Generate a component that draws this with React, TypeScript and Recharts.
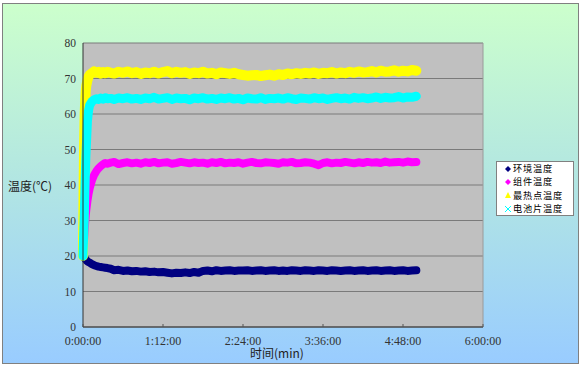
import { LineChart, Line, XAxis, YAxis, CartesianGrid, ReferenceLine } from 'recharts'

// minutes since start
const TIME_MIN = [
  0, 0.5, 1, 1.5, 2, 2.5, 3, 4, 5, 6, 8, 10, 12, 14, 16, 18, 20, 22, 25,
  28, 32, 36, 40, 44, 48, 52, 56, 60, 64, 68, 72, 76, 80, 84, 88, 92, 96, 100, 104,
  108, 112, 116, 120, 124, 128, 132, 136, 140, 144, 148, 152, 156, 160, 164, 168, 172, 176, 180, 184,
  188, 192, 196, 200, 204, 208, 212, 216, 220, 224, 228, 232, 236, 240, 244, 248, 252, 256, 260, 264,
  268, 272, 276, 280, 284, 288, 292, 296, 300
]

const AMBIENT = [
  20.0, 19.8, 19.6, 19.4, 19.2, 19.0, 18.8, 18.5, 18.3, 18.1, 17.7, 17.4, 17.2, 17.0, 16.9, 16.8, 16.7, 16.6, 16.4,
  16.0, 16.1, 15.8, 15.9, 15.7, 15.8, 15.6, 15.7, 15.5, 15.6,
  15.4, 15.5, 15.3, 15.1, 15.3, 15.2, 15.4, 15.2, 15.5, 15.3,
  15.8, 15.9, 15.7, 16.0, 15.8, 15.9, 16.0, 15.8, 15.9, 15.9,
  16.0, 15.8, 15.9, 16.0, 15.8, 15.9, 16.0, 15.8, 15.9, 15.8,
  16.0, 15.9, 15.8, 16.0, 15.9, 15.8, 16.0, 15.9, 15.8, 16.0,
  15.9, 15.8, 15.9, 16.0, 15.8, 15.9, 16.0, 15.8, 15.9, 16.0,
  15.8, 15.9, 16.0, 15.8, 15.9, 16.0, 15.8, 15.9, 16.0
]

const MODULE = [
  20.0, 22.5, 25.0, 27.5, 29.5, 31.5, 33.0, 35.5, 37.5, 39.0, 41.3, 42.8, 43.9, 44.7, 45.3, 45.8, 46.2, 46.0, 46.3,
  46.5, 45.9, 46.2, 46.4, 46.1, 46.3, 46.0, 46.4, 46.2, 46.5,
  46.1, 46.3, 46.4, 46.0, 46.2, 46.5, 46.3, 46.1, 46.4, 46.2,
  46.3, 46.0, 46.4, 46.2, 46.5, 46.1, 46.3, 46.2, 46.4, 46.0,
  46.3, 46.5, 46.2, 46.1, 46.4, 46.3, 46.2, 46.0, 46.4, 46.3,
  46.5, 46.1, 46.2, 46.4, 46.3, 46.0, 45.6, 46.2, 46.4, 46.1,
  46.3, 46.2, 46.5, 46.3, 46.1, 46.4, 46.2, 46.5, 46.3, 46.4,
  46.2, 46.6, 46.3, 46.4, 46.5, 46.3, 46.6, 46.4, 46.5
]

const HOTSPOT = [
  20.0, 38.0, 52.0, 60.0, 64.0, 66.5, 68.0, 69.5, 70.5, 71.0, 71.5, 72.0, 71.6, 71.9, 71.4, 71.8, 71.5, 71.9, 71.6,
  71.4, 71.9, 71.6, 72.0, 71.5, 71.8, 71.3, 71.7, 71.5, 71.9,
  71.4, 71.8, 72.1, 71.5, 71.9, 71.6, 71.8, 71.3, 71.7, 71.5,
  71.9, 71.4, 71.6, 71.2, 71.7, 71.5, 71.3, 71.6, 71.2, 71.0,
  70.8, 70.9, 71.0, 70.7, 70.9, 71.1, 70.8, 71.2, 71.0, 71.4,
  71.2, 71.5, 71.3, 71.6, 71.4, 71.7, 71.3, 71.6, 71.5, 71.8,
  71.4, 71.7, 71.5, 71.9, 71.6, 72.0, 71.7, 71.8, 72.1, 71.7,
  72.2, 71.9, 72.0, 72.3, 71.9, 72.2, 72.0, 72.4, 72.2
]

const CELL = [
  20.0, 25.0, 30.0, 36.0, 42.0, 47.0, 51.0, 58.0, 61.0, 62.5, 63.5, 64.0, 64.3, 64.1, 64.5, 64.2, 64.6, 64.3, 64.4,
  64.1, 64.5, 64.3, 64.6, 64.2, 64.4, 64.1, 64.5, 64.3, 64.7,
  64.2, 64.4, 64.6, 64.1, 64.5, 64.3, 64.4, 64.0, 64.5, 64.3,
  64.6, 64.2, 64.4, 64.1, 64.5, 64.3, 64.6, 64.2, 64.4, 64.0,
  64.5, 64.3, 64.2, 64.6, 64.1, 64.4, 64.3, 64.5, 64.2, 64.6,
  64.3, 64.1, 64.5, 64.4, 64.2, 64.6, 64.3, 64.5, 64.1, 64.4,
  64.6, 64.3, 64.5, 64.2, 64.7, 64.4, 64.6, 64.3, 64.5, 64.8,
  64.4, 64.7, 64.5, 64.6, 64.9, 64.5, 64.8, 64.7, 65.0
]

const SERIES = [
  { key: 'ambient', name: '环境温度', color: '#000080', shape: 'diamond', width: 8, values: AMBIENT },
  { key: 'module', name: '组件温度', color: '#ff00ff', shape: 'diamond', width: 8, values: MODULE },
  { key: 'hotspot', name: '最热点温度', color: '#ffff00', shape: 'triangle', width: 10, values: HOTSPOT },
  { key: 'cell', name: '电池片温度', color: '#00ffff', shape: 'cross', width: 9, values: CELL }
]

const X_TICKS = [0, 72, 144, 216, 288, 360]
const Y_TICKS = [0, 10, 20, 30, 40, 50, 60, 70, 80]

const data = TIME_MIN.map((t, i) => {
  const row: any = { t }
  SERIES.forEach(s => { row[s.key] = s.values[i] })
  return row
})

const fmtTime = (m: number) => {
  const h = Math.floor(m / 60)
  const mm = Math.round(m % 60)
  return `${h}:${String(mm).padStart(2, '0')}:00`
}

const NUM_FONT = 'Liberation Serif'
const CJK_FONT = '"Noto Sans CJK SC"'

const XTick = (props: any) => {
  const { x, y, payload } = props
  return (
    <g>
      <line x1={x} x2={x} y1={y - 7} y2={y - 10} stroke='#555' />
      <text x={x} y={y + 2} dy='0.71em' textAnchor='middle' fill='#333' fontSize={12} fontFamily={NUM_FONT}>
        {fmtTime(payload.value)}
      </text>
    </g>
  )
}

const Marker = ({ shape, color }: { shape: string, color: string }) => (
  <svg width={6} height={6} style={{ display: 'block', marginRight: 2, flex: 'none' }}>
    {shape === 'diamond' && <polygon points='3,0 6,3 3,6 0,3' fill={color} />}
    {shape === 'triangle' && <polygon points='3,0 6,6 0,6' fill={color} />}
    {shape === 'cross' && (
      <g stroke={color} strokeWidth={1}>
        <line x1={0} y1={0} x2={6} y2={6} />
        <line x1={6} y1={0} x2={0} y2={6} />
      </g>
    )}
  </svg>
)

const LegendBox = () => (
  <div style={{
    position: 'absolute', left: 496, top: 161, width: 76, height: 53,
    background: '#fff', border: '1px solid #808080', paddingTop: 0
  }}>
    {SERIES.map(s => (
      <div key={s.key} style={{
        display: 'flex', alignItems: 'center', height: 13.3, paddingLeft: 8, whiteSpace: 'nowrap',
        fontFamily: CJK_FONT, fontSize: 9.2, letterSpacing: 0.8, color: '#000', lineHeight: '13.3px'
      }}>
        <Marker shape={s.shape} color={s.color} />
        <span>{s.name}</span>
      </div>
    ))}
  </div>
)

export default function App() {
  return (
    <div style={{ position: 'absolute', left: 0, top: 0, width: 580, height: 365, background: '#fff' }}>
      <div style={{
        position: 'absolute', left: 2, top: 3, width: 575, height: 359, border: '1px solid #808080',
        background: 'linear-gradient(to bottom, #ccffcc 0%, #b4e8e0 45%, #99ccff 100%)'
      }} />
      <div style={{ position: 'absolute', left: 0, top: 0 }}>
        <LineChart width={580} height={365} data={data} margin={{ top: 43, right: 97, bottom: 8, left: 53 }}>
          <CartesianGrid vertical={false} stroke='#7a7a7a' fill='#c0c0c0' fillOpacity={1} />
          <XAxis
            dataKey='t'
            type='number'
            domain={[0, 360]}
            ticks={X_TICKS}
            height={30}
            tickSize={0}
            tickMargin={7}
            tick={<XTick />}
            stroke='#333'
            label={{ content: () => (
              <text x={277} y={358} textAnchor='middle' fill='#222' fontSize={12} fontFamily={CJK_FONT}>时间(min)</text>
            ) }}
          />
          <YAxis
            type='number'
            domain={[0, 80]}
            ticks={Y_TICKS}
            width={30}
            tickLine={false}
            tickSize={0}
            tickMargin={7}
            stroke='#333'
            tick={{ fill: '#333', fontSize: 11.5, fontFamily: NUM_FONT }}
            label={{ content: () => (
              <text x={8} y={191} fill='#222' fontSize={12} fontFamily={CJK_FONT}>温度(℃)</text>
            ) }}
          />
          <ReferenceLine x={360} stroke='#9a9a9a' />
          {SERIES.map(s => (
            <Line
              key={s.key}
              dataKey={s.key}
              name={s.name}
              stroke={s.color}
              strokeWidth={s.width}
              strokeLinejoin='round'
              strokeLinecap='round'
              dot={false}
              activeDot={false}
              isAnimationActive={false}
            />
          ))}
        </LineChart>
      </div>
      <LegendBox />
    </div>
  )
}
